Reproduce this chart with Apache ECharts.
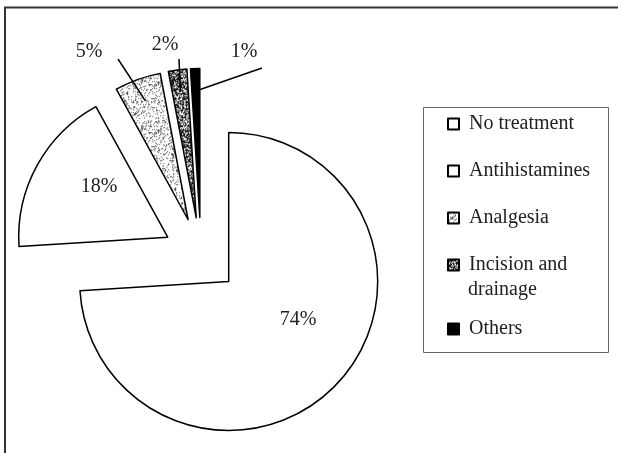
<!DOCTYPE html>
<html>
<head>
<meta charset="utf-8">
<script src="https://cdn.jsdelivr.net/npm/echarts@6/dist/echarts.min.js"></script>
<style>
  html, body { margin: 0; padding: 0; background: #fff; }
  #chart { width: 618px; height: 453px; }
</style>
</head>
<body>
<div id="chart"></div>
<script>
// Treatment categories and their shares (%)
const categories = ['No treatment', 'Antihistamines', 'Analgesia', 'Incision and drainage', 'Others'];
const shares = [74, 18, 5, 2, 1];

// Pie geometry (pixels)
const PIE = { cx: 201, cy: 255.5, r: 149, explode: 38 };
const FONT = 'Liberation Serif';
const INK = '#222';

// Label text centres and the outer end of each leader line
const labelSpots = [[298, 320], [99, 187], [89, 52], [165, 45], [244, 52]];
const leaderFrom = [null, null, [118, 59], [179, 59], [262, 68]];

// Deterministic stipple tile used as a fill texture
function stipple(bg, ink, density, seed) {
  const size = 48;
  const c = document.createElement('canvas');
  c.width = c.height = size;
  const g = c.getContext('2d');
  g.fillStyle = bg;
  g.fillRect(0, 0, size, size);
  g.fillStyle = ink;
  for (let y = 0; y < size; y++) {
    for (let x = 0; x < size; x++) {
      let h = Math.imul(x + 1, 374761393) ^ Math.imul(y + 7, 668265263) ^ Math.imul(seed, 2246822519);
      h = Math.imul(h ^ (h >>> 13), 1274126177);
      h = (h ^ (h >>> 16)) >>> 0;
      if ((h % 1000) / 1000 < density) g.fillRect(x, y, 1, 1);
    }
  }
  return { image: c, repeat: 'repeat' };
}

const fills = ['#ffffff', '#ffffff', stipple('#ffffff', '#555', 0.2, 3), stipple('#ffffff', '#1a1a1a', 0.65, 11), '#000000'];

// Point well inside an exploded slice, on its bisector
function innerPoint(i) {
  const total = shares.reduce((a, b) => a + b, 0);
  let before = 0;
  for (let k = 0; k < i; k++) before += shares[k];
  const mid = (before + shares[i] / 2) / total * Math.PI * 2;
  const dx = Math.sin(mid), dy = -Math.cos(mid);
  const vx = PIE.cx + PIE.explode * dx, vy = PIE.cy + PIE.explode * dy;
  return [vx + 0.85 * PIE.r * dx, vy + 0.85 * PIE.r * dy];
}

const chart = echarts.init(document.getElementById('chart'), null, { renderer: 'canvas' });

const legendText = { fontFamily: FONT, fontSize: 20, color: INK, padding: [0, 0, 0, 5] };

const pieBase = {
  type: 'pie',
  center: [PIE.cx, PIE.cy],
  radius: PIE.r,
  startAngle: 90,
  clockwise: true,
  emphasis: { disabled: true }
};

chart.setOption({
  animation: false,
  backgroundColor: '#ffffff',
  textStyle: { fontFamily: FONT },
  graphic: [
    { type: 'rect', silent: true, shape: { x: 5, y: 7.5, width: 700, height: 500 },
      style: { fill: 'none', stroke: '#333', lineWidth: 2 } },
    { type: 'rect', silent: true, shape: { x: 423.5, y: 107.5, width: 185, height: 245 },
      style: { fill: 'none', stroke: '#666', lineWidth: 1 } },
    { type: 'text', silent: true, x: 468, y: 290,
      style: { text: 'drainage', font: '20px "Liberation Serif"', fill: INK, verticalAlign: 'middle' } }
  ],
  legend: [
    {
      orient: 'vertical', left: 442, top: 109, itemWidth: 11, itemHeight: 11, itemGap: 27,
      icon: 'rect', selectedMode: false,
      data: categories.slice(0, 4),
      formatter: n => (n === 'Incision and drainage' ? 'Incision and' : n),
      textStyle: legendText
    },
    {
      orient: 'vertical', left: 442, top: 314, itemWidth: 11, itemHeight: 11,
      icon: 'rect', selectedMode: false,
      data: categories.slice(4),
      textStyle: legendText
    }
  ],
  series: [
    // Exploded slices
    Object.assign({}, pieBase, {
      selectedMode: 'multiple',
      selectedOffset: PIE.explode,
      itemStyle: { borderColor: '#000', borderWidth: 1.5 },
      label: { show: false },
      labelLine: { show: false },
      data: categories.map((name, i) => ({
        name: name,
        value: shares[i],
        selected: true,
        itemStyle: { color: fills[i] }
      }))
    }),
    // Percentage labels and leader lines
    Object.assign({}, pieBase, {
      silent: true,
      z: 3,
      itemStyle: { color: 'rgba(0,0,0,0)', borderWidth: 0 },
      label: {
        show: true, position: 'outside', formatter: '{c}%',
        overflow: 'none', edgeDistance: 0,
        fontFamily: FONT, fontSize: 20, color: INK
      },
      labelLine: { show: true, lineStyle: { color: '#000', width: 1.5 } },
      labelLayout: function (p) {
        const spot = labelSpots[p.dataIndex];
        const out = { x: spot[0], y: spot[1], align: 'center', verticalAlign: 'middle' };
        const from = leaderFrom[p.dataIndex];
        if (from) out.labelLinePoints = [from, innerPoint(p.dataIndex)];
        return out;
      },
      data: categories.map((name, i) => ({
        name: name,
        value: shares[i],
        labelLine: { show: leaderFrom[i] !== null }
      }))
    })
  ]
});
</script>
</body>
</html>
